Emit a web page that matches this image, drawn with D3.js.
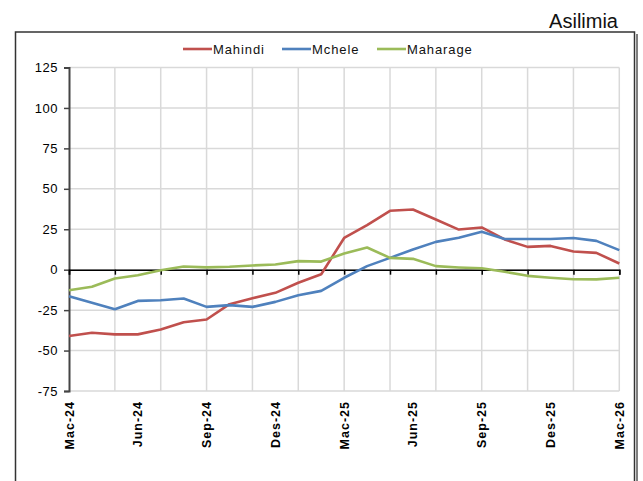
<!DOCTYPE html>
<html>
<head>
<meta charset="utf-8">
<script src="https://cdn.jsdelivr.net/npm/d3@7"></script>
<style>
  body { margin: 0; background: #fff; }
  svg { display: block; font-family: "Liberation Sans", Arial, sans-serif; }
</style>
</head>
<body>
<svg id="chart" width="643" height="481"></svg>
<script>
// data: monthly % change, Mac-24 .. Mac-26
const months = ["Mac-24","Apr-24","Mei-24","Jun-24","Jul-24","Ago-24","Sep-24","Okt-24","Nov-24","Des-24",
                "Jan-25","Feb-25","Mac-25","Apr-25","Mei-25","Jun-25","Jul-25","Ago-25","Sep-25","Okt-25",
                "Nov-25","Des-25","Jan-26","Feb-26","Mac-26"];
const mahindi  = [-41, -39, -40, -40, -37, -32.5, -30.8, -21.3, -17.6, -14.3, -8.1, -2.8,
                  19.6, 27.5, 36.4, 37.2, 31, 24.8, 26.1, 18.7, 14.1, 14.7, 11.2, 10.4, 3.8];
const mchele   = [-16.4, -20.5, -24.4, -19.3, -18.9, -17.8, -23, -21.9, -23, -19.9, -15.8, -13.1,
                  -5, 2.2, 7.3, 12.5, 17.2, 19.7, 23.4, 19, 19, 19, 19.6, 17.8, 12.1];
const maharage = [-12.7, -10.6, -5.4, -3.4, -0.3, 2, 1.4, 1.8, 2.6, 3.2, 5.3, 5,
                  10, 13.7, 7.3, 6.7, 2.2, 1.4, 0.9, -1.3, -3.8, -5, -5.9, -6, -5];
const seriesNames  = ["Mahindi", "Mchele", "Maharage"];
const seriesColors = ["#C0504D", "#4F81BD", "#9BBB59"];
const yTicks = [-75, -50, -25, 0, 25, 50, 75, 100, 125];
const xLabels = ["Mac-24","Jun-24","Sep-24","Des-24","Mac-25","Jun-25","Sep-25","Des-25","Mac-26"];
const unitLabel = "Asilimia";

const series = [mahindi, mchele, maharage].map((vals, k) => ({
  name: seriesNames[k], color: seriesColors[k], values: vals
}));

const svg = d3.select("#chart");

// outer frame (runs off the bottom of the picture)
svg.append("line").attr("x1", 637).attr("x2", 637).attr("y1", 34).attr("y2", 481)
  .attr("stroke", "#555").attr("stroke-width", 1.5);
svg.append("rect")
  .attr("x", 15.5).attr("y", 32).attr("width", 619).attr("height", 470)
  .attr("fill", "none").attr("stroke", "#333").attr("stroke-width", 1.5);

svg.append("text")
  .attr("x", 618).attr("y", 28)
  .attr("text-anchor", "end")
  .style("font-size", "20px")
  .style("fill", "#111")
  .text(unitLabel);

// scales
const x = d3.scalePoint().domain(months).range([69, 619.3]);
const y = d3.scaleLinear().domain([-75, 125]).range([391, 67.5]);

// gridlines
const gridMonths = months.filter((d, i) => i % 2 === 0);
svg.append("g").selectAll("line")
  .data(yTicks)
  .join("line")
    .attr("x1", 69).attr("x2", 619.3)
    .attr("y1", d => y(d)).attr("y2", d => y(d))
    .attr("stroke", "#d9d9d9").attr("stroke-width", 1.5);
svg.append("g").selectAll("line")
  .data(gridMonths.slice(1))
  .join("line")
    .attr("x1", d => x(d)).attr("x2", d => x(d))
    .attr("y1", y(125)).attr("y2", y(-75))
    .attr("stroke", "#d9d9d9").attr("stroke-width", 1.5);

// y axis
const yAxis = svg.append("g")
  .attr("transform", "translate(69,0)")
  .call(d3.axisLeft(y).tickValues(yTicks).tickSize(5).tickPadding(6).tickFormat(d => String(d)));
yAxis.select(".domain").attr("stroke", "#444").attr("stroke-width", 2);
yAxis.selectAll(".tick line").attr("stroke", "#444").attr("stroke-width", 1.5);
yAxis.selectAll(".tick text")
  .attr("font-family", "Liberation Sans, Arial, sans-serif")
  .style("font-size", "13px").style("letter-spacing", "0.5px").style("fill", "#000");

// x axis along zero line
const xAxis = svg.append("g")
  .attr("transform", `translate(0,${y(0)})`)
  .call(d3.axisBottom(x).tickValues(gridMonths).tickSize(5).tickFormat(""));
xAxis.select(".domain").attr("stroke", "#000").attr("stroke-width", 1.5);
xAxis.selectAll(".tick line").attr("stroke", "#000").attr("stroke-width", 1.5);

// rotated month labels under the plot
svg.append("g").selectAll("text")
  .data(xLabels)
  .join("text")
    .attr("transform", d => `translate(${x(d) + 4.5},401) rotate(-90)`)
    .attr("text-anchor", "end")
    .style("font-size", "12.5px")
    .style("font-weight", "bold")
    .style("letter-spacing", "1px")
    .style("fill", "#000")
    .text(d => d);

// lines
const line = d3.line()
  .x((d, i) => x(months[i]))
  .y(d => y(d));
svg.append("g").selectAll("path")
  .data(series)
  .join("path")
    .attr("d", d => line(d.values))
    .attr("fill", "none")
    .attr("stroke", d => d.color)
    .attr("stroke-width", 2.6)
    .attr("stroke-linejoin", "round");

// legend
const legendX = [183, 282, 377];
const legend = svg.append("g").selectAll("g")
  .data(series)
  .join("g")
    .attr("transform", (d, i) => `translate(${legendX[i]},49)`);
legend.append("line")
  .attr("x1", 0).attr("x2", 29)
  .attr("stroke", d => d.color).attr("stroke-width", 2.6);
legend.append("text")
  .attr("x", 30).attr("y", 4.5)
  .style("font-size", "13px")
  .style("letter-spacing", "0.9px")
  .style("fill", "#111")
  .text(d => d.name);
</script>
</body>
</html>
